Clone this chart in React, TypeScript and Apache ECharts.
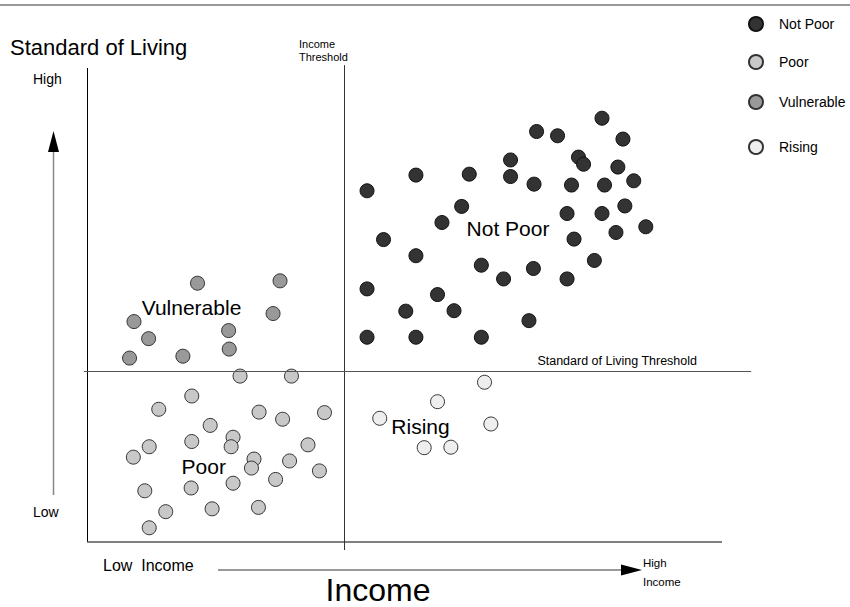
import React, { useEffect, useRef } from "react";
import * as echarts from "echarts";

// Income (x, 0 = low .. 100 = high) and Standard of Living (y, 0 = low .. 100 = high)
const notPoor: number[][] = [
  [81.1, 89.4], [70.8, 86.6], [74.1, 85.7], [84.4, 85.0], [66.7, 80.6], [77.4, 81.2],
  [78.2, 79.7], [83.6, 79.1], [51.8, 77.4], [60.2, 77.6], [66.7, 77.1], [70.4, 75.5],
  [76.3, 75.3], [81.5, 75.3], [86.1, 76.2], [44.1, 74.1], [59.0, 70.8], [55.9, 67.4],
  [75.6, 69.3], [81.1, 69.3], [84.7, 70.9], [88.0, 66.5], [83.3, 65.3], [76.7, 63.9],
  [46.7, 63.8], [51.8, 60.4], [62.1, 58.4], [65.6, 55.5], [70.3, 57.7], [75.6, 55.5],
  [79.9, 59.4], [44.1, 53.4], [55.2, 52.2], [50.2, 48.7], [57.8, 48.8], [69.6, 46.7],
  [44.1, 43.2], [51.8, 43.2], [62.1, 43.2],
];
const poor: number[][] = [
  [24.1, 35.0], [32.2, 35.0], [16.5, 30.8], [11.3, 28.0], [27.1, 27.4], [30.8, 25.9],
  [37.4, 27.3], [19.4, 24.6], [23.0, 22.1], [22.7, 20.1], [16.5, 21.2], [9.8, 20.1],
  [7.3, 17.9], [34.8, 20.5], [26.3, 17.5], [25.9, 15.6], [31.9, 17.1], [36.6, 15.0],
  [29.7, 13.2], [23.0, 12.4], [16.4, 11.4], [9.1, 10.8], [27.0, 7.3], [19.7, 7.0],
  [12.4, 6.4], [9.8, 3.0],
];
const vulnerable: number[][] = [
  [17.4, 54.6], [30.4, 55.1], [29.3, 48.2], [7.4, 46.5], [22.3, 44.6], [9.7, 42.9],
  [22.4, 40.7], [6.7, 38.8], [15.1, 39.2],
];
const rising: number[][] = [
  [62.6, 33.7], [55.2, 29.6], [46.1, 26.1], [63.6, 24.9], [53.1, 19.9], [57.3, 20.0],
];
const incomeThreshold = 40.5;
const livingThreshold = 36.1;
const seriesNames = ["Not Poor", "Poor", "Vulnerable", "Rising"];

const FONT = "'Liberation Sans', Arial, Helvetica, sans-serif";

export default function App() {
  const ref = useRef<HTMLDivElement>(null);
  useEffect(() => {
    if (!ref.current) return;
    const chart = echarts.init(ref.current, null, { renderer: "svg" });
    const txt = (x: number, y: number, text: string, size: number, align = "left", extra: any = {}) => ({
      type: "text",
      x,
      y,
      silent: true,
      style: { text, fontSize: size, fontFamily: FONT, fill: "#000", align, verticalAlign: "middle", ...extra },
    });
    const mkStyle = (color: string, border: string) => ({ color, borderColor: border, borderWidth: 1, opacity: 1 });
    const legendTops = [16, 54, 94, 139];
    chart.setOption({
      animation: false,
      backgroundColor: "#fff",
      textStyle: { fontFamily: FONT },
      grid: { left: 80.65, top: 63.26, width: 673.1, height: 488.22, containLabel: false },
      xAxis: {
        type: "value", min: -1, max: 105,
        axisLine: { show: false }, axisTick: { show: false }, axisLabel: { show: false }, splitLine: { show: false },
      },
      yAxis: {
        type: "value", min: -2, max: 101,
        axisLine: { show: false }, axisTick: { show: false }, axisLabel: { show: false }, splitLine: { show: false },
      },
      legend: seriesNames.map((n, i) => ({
        data: [n],
        orient: "vertical",
        left: 748,
        top: legendTops[i],
        itemWidth: 36,
        itemHeight: 14,
        icon: "circle",
        selectedMode: false,
        padding: 0,
        textStyle: { fontSize: 14, color: "#000", fontFamily: FONT },
      })),
      series: [
        {
          name: "Not Poor", type: "scatter", data: notPoor, symbolSize: 14,
          itemStyle: mkStyle("#333333", "#111111"),
          markLine: {
            silent: true, symbol: ["none", "none"], label: { show: false }, animation: false,
            data: [
              [{ coord: [0, 0], lineStyle: { color: "#000", width: 1, type: "solid" } }, { coord: [0, 100] }],
              [{ coord: [0, 0], lineStyle: { color: "#555", width: 1.5, type: "solid" } }, { coord: [100, 0] }],
              [{ coord: [incomeThreshold, -1.7], lineStyle: { color: "#333", width: 1, type: "solid" } }, { coord: [incomeThreshold, 100.6] }],
              [{ coord: [-0.5, livingThreshold], lineStyle: { color: "#555", width: 1.2, type: "solid" } }, { coord: [104.6, livingThreshold] }],
            ],
          },
        },
        { name: "Poor", type: "scatter", data: poor, symbolSize: 14, itemStyle: mkStyle("#c8c8c8", "#333333") },
        { name: "Vulnerable", type: "scatter", data: vulnerable, symbolSize: 14, itemStyle: mkStyle("#999999", "#333333") },
        { name: "Rising", type: "scatter", data: rising, symbolSize: 14, itemStyle: mkStyle("#eeeeee", "#333333") },
      ],
      graphic: [
        { type: "line", silent: true, shape: { x1: 0, y1: 5, x2: 850, y2: 5 }, style: { stroke: "#999", lineWidth: 2 } },
        txt(10, 47, "Standard of Living", 22),
        txt(33, 79, "High", 14),
        txt(33, 512, "Low", 14),
        txt(299, 44, "Income", 11),
        txt(299, 57, "Threshold", 11),
        txt(697, 361, "Standard of Living Threshold", 12.5, "right"),
        txt(508, 228, "Not Poor", 21, "center"),
        txt(191.5, 307, "Vulnerable", 21, "center"),
        txt(203.7, 466, "Poor", 21, "center"),
        txt(420.5, 426, "Rising", 21, "center"),
        txt(103, 565, "Low  Income", 16),
        txt(643, 563, "High", 11.5),
        txt(643, 582, "Income", 11.5),
        txt(378, 606, "Income", 32, "center", { verticalAlign: "bottom" }),
        { type: "line", silent: true, shape: { x1: 53.5, y1: 495, x2: 53.5, y2: 150 }, style: { stroke: "#888", lineWidth: 1.5 } },
        { type: "polygon", silent: true, shape: { points: [[53.5, 131], [48, 152], [59, 152]] }, style: { fill: "#000" } },
        { type: "line", silent: true, shape: { x1: 218, y1: 570, x2: 622, y2: 570 }, style: { stroke: "#777", lineWidth: 1.5 } },
        { type: "polygon", silent: true, shape: { points: [[642, 570], [621, 564.5], [621, 575.5]] }, style: { fill: "#000" } },
      ],
    });
    return () => chart.dispose();
  }, []);
  return <div ref={ref} style={{ position: "fixed", left: 0, top: 0, width: 850, height: 607 }} />;
}
